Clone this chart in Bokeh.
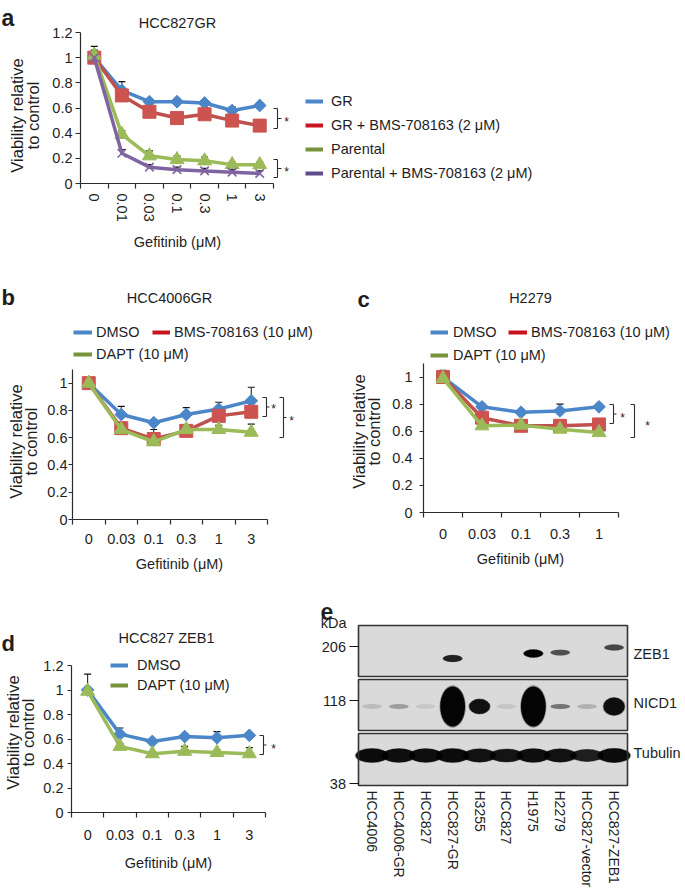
import numpy as np
from bokeh.plotting import figure
from bokeh.layouts import column, row
from bokeh.models import (Range1d, FixedTicker, NumeralTickFormatter, Label,
                          Legend, LegendItem, Arrow)
from bokeh.embed import file_html
from bokeh.resources import INLINE

# ------------------------------------------------------------------ data
x_title = "Gefitinib (μM)"
y_title = ["Viability relative", "to control"]

# panel a : HCC827GR
doses_a = ["0", "0.01", "0.03", "0.1", "0.3", "1", "3"]
names_a = ["GR", "GR + BMS-708163 (2 μM)", "Parental", "Parental + BMS-708163 (2 μM)"]
a_gr = [1.00, 0.74, 0.65, 0.65, 0.64, 0.58, 0.62]
a_gr_err = [0.09, 0.07, 0.02, 0.02, 0.02, 0.03, 0.02]
a_gr_bms = [1.00, 0.70, 0.57, 0.52, 0.55, 0.50, 0.46]
a_gr_bms_err = [0.05, 0.03, 0.02, 0.02, 0.05, 0.02, 0.02]
a_par = [1.02, 0.39, 0.22, 0.19, 0.18, 0.15, 0.15]
a_par_err = [0.04, 0.03, 0.04, 0.03, 0.03, 0.02, 0.02]
a_par_bms = [1.00, 0.24, 0.13, 0.11, 0.10, 0.09, 0.08]
a_par_bms_err = [0.02, 0.03, 0.02, 0.02, 0.02, 0.02, 0.02]
yticks_a = [0, 0.2, 0.4, 0.6, 0.8, 1.0, 1.2]

# panel b : HCC4006GR
doses_b = ["0", "0.03", "0.1", "0.3", "1", "3"]
names_b = ["DMSO", "BMS-708163 (10 μM)", "DAPT (10 μM)"]
b_dmso = [1.00, 0.77, 0.71, 0.77, 0.81, 0.87]
b_dmso_err = [0.04, 0.06, 0.02, 0.05, 0.05, 0.10]
b_bms = [1.00, 0.67, 0.59, 0.65, 0.76, 0.79]
b_bms_err = [0.02, 0.02, 0.07, 0.02, 0.06, 0.02]
b_dapt = [1.00, 0.66, 0.57, 0.66, 0.66, 0.64]
b_dapt_err = [0.02, 0.02, 0.02, 0.02, 0.03, 0.06]
yticks_b = [0, 0.2, 0.4, 0.6, 0.8, 1.0]

# panel c : H2279
doses_c = ["0", "0.03", "0.1", "0.3", "1"]
names_c = ["DMSO", "BMS-708163 (10 μM)", "DAPT (10 μM)"]
c_dmso = [1.00, 0.78, 0.74, 0.75, 0.78]
c_dmso_err = [0.05, 0.02, 0.02, 0.05, 0.02]
c_bms = [1.00, 0.70, 0.64, 0.64, 0.65]
c_bms_err = [0.02, 0.02, 0.02, 0.02, 0.02]
c_dapt = [0.99, 0.64, 0.645, 0.615, 0.59]
c_dapt_err = [0.02, 0.02, 0.02, 0.02, 0.02]
yticks_c = [0, 0.2, 0.4, 0.6, 0.8, 1.0]

# panel d : HCC827 ZEB1
doses_d = ["0", "0.03", "0.1", "0.3", "1", "3"]
names_d = ["DMSO", "DAPT (10 μM)"]
d_dmso = [1.00, 0.64, 0.58, 0.62, 0.61, 0.63]
d_dmso_err = [0.13, 0.05, 0.02, 0.02, 0.05, 0.02]
d_dapt = [0.99, 0.54, 0.48, 0.50, 0.49, 0.48]
d_dapt_err = [0.02, 0.02, 0.02, 0.04, 0.02, 0.05]
yticks_d = [0, 0.2, 0.4, 0.6, 0.8, 1.0, 1.2]

# panel e : western blot
lanes = ["HCC4006", "HCC4006-GR", "HCC827", "HCC827-GR", "H3255", "HCC827",
         "H1975", "H2279", "HCC827-vector", "HCC827-ZEB1"]
proteins = ["ZEB1", "NICD1", "Tubulin"]
kda_markers = ["206", "118", "38"]
zeb1 = [0.0, 0.0, 0.0, 0.8, 0.0, 0.0, 1.0, 0.55, 0.0, 0.6]
nicd1 = [0.10, 0.22, 0.06, 1.0, 0.9, 0.07, 1.0, 0.38, 0.14, 0.92]
tubulin = [0.95, 0.92, 0.92, 0.95, 0.9, 0.88, 0.92, 0.9, 0.82, 0.95]

# ------------------------------------------------------------------ style
FONT = "Liberation Sans"
FS = "14.5px"
TXT = "#1e1e1e"
AXC = "#2c2c2c"
BLUE, RED, GREEN, PURPLE = "#4a86c8", "#c0504d", "#9bbb59", "#8064a2"
STY = {
    "blue": dict(line=BLUE, marker="square", angle=np.pi / 4, size=9, fill=BLUE, leg="#4a86c8"),
    "red": dict(line=RED, marker="square", angle=0.0, size=13, fill="#cd5350", leg="#c8141e"),
    "green": dict(line=GREEN, marker="triangle", angle=0.0, size=14, fill=GREEN, leg="#77933c"),
    "purple": dict(line=PURPLE, marker="x", angle=0.0, size=12, fill=PURPLE, leg="#604a87"),
}


class Panel:
    """A figure whose frame fills the whole canvas; 'area' is the box (page px)
    that the data ranges xr / yr occupy, axes sit at its left / bottom edges."""

    def __init__(self, origin, size, area, xr, yr):
        self.ox, self.oy = origin
        self.W, self.H = size
        self.fl, self.ft, self.fw, self.fh = area
        self.xa0, self.xa1 = xr
        self.ya0, self.ya1 = yr
        self.sx = self.fw / (self.xa1 - self.xa0)
        self.sy = self.fh / (self.ya1 - self.ya0)
        xs = self.X(self.ox)
        xe = self.X(self.ox + self.W)
        ys = self.Y(self.oy + self.H)
        ye = self.Y(self.oy)
        self.p = figure(width=self.W, height=self.H, output_backend="svg",
                        toolbar_location=None, x_range=Range1d(xs, xe),
                        y_range=Range1d(ys, ye), min_border=0,
                        outline_line_color=None, background_fill_color="white",
                        border_fill_color="white")
        self.p.grid.visible = False

    def X(self, px):
        return self.xa0 + (px - self.fl) / self.sx

    def Y(self, py):
        return self.ya0 + (self.ft + self.fh - py) / self.sy

    def text(self, px, py, s, size=FS, align="center", bold=False, angle=0.0,
             baseline="middle"):
        self.p.add_layout(Label(x=self.X(px), y=self.Y(py), text=s, text_font=FONT,
                                text_font_size=size, text_align=align,
                                text_baseline=baseline, text_color=TXT, angle=angle,
                                text_font_style="bold" if bold else "normal"))

    def letter(self, px, py, s, size="22px"):
        self.text(px, py, s, size=size, align="left", bold=True, baseline="alphabetic")

    def seg(self, ax, ay, bx, by):
        self.p.add_layout(Arrow(x_start=self.X(ax), y_start=self.Y(ay),
                                x_end=self.X(bx), y_end=self.Y(by), end=None,
                                line_color=AXC, line_width=1.1))

    def bracket(self, xl, xv, top, bot, mid_len, sx, sy):
        self.seg(xl, top, xv, top)
        self.seg(xv, top, xv, bot)
        self.seg(xl, bot, xv, bot)
        if mid_len:
            m = (top + bot) / 2
            self.seg(xv, m, xv + mid_len, m)
        self.text(sx, sy + 3, "*", size="12px")

    def legend(self, label, color, gx, gy, gw, standoff):
        nan2 = np.array([np.nan, np.nan])
        r = self.p.line(nan2, nan2, line_color=color, line_width=4)
        self.p.add_layout(Legend(items=[LegendItem(label=label, renderers=[r])],
                                 location=(gx - self.ox, self.oy + self.H - gy - 10),
                                 padding=0, margin=0, spacing=0, glyph_width=gw,
                                 glyph_height=20, label_height=20, label_standoff=standoff,
                                 border_line_color=None, background_fill_alpha=0,
                                 label_text_font=FONT, label_text_font_size=FS,
                                 label_text_color=TXT))

    def axes(self, cats, yticks, rotate, xstd, ytick_out, ystd):
        p = self.p
        n = len(cats)
        xa = p.xaxis[0]
        xa.fixed_location = self.ya0
        xa.bounds = (self.xa0, self.xa1)
        xa.ticker = FixedTicker(ticks=list(range(n)),
                                minor_ticks=[i - 0.5 for i in range(n + 1)])
        xa.major_label_overrides = {i: c for i, c in enumerate(cats)}
        xa.major_tick_out = 0
        xa.major_tick_in = 0
        xa.minor_tick_out = 5
        xa.minor_tick_in = 0
        xa.minor_tick_line_color = AXC
        xa.minor_tick_line_width = 1.2
        xa.axis_line_color = AXC
        xa.axis_line_width = 1.2
        xa.major_label_standoff = xstd
        if rotate:
            xa.major_label_orientation = "vertical"
        ya = p.yaxis[0]
        ya.fixed_location = self.xa0
        ya.bounds = (self.ya0, self.ya1)
        ya.ticker = FixedTicker(ticks=yticks)
        ya.formatter = NumeralTickFormatter(format="0.[0]")
        ya.major_tick_out = ytick_out
        ya.major_tick_in = 0
        ya.major_tick_line_color = AXC
        ya.major_tick_line_width = 1.2
        ya.axis_line_color = AXC
        ya.axis_line_width = 1.2
        ya.major_label_standoff = ystd
        for ax in (xa, ya):
            ax.major_label_text_font = FONT
            ax.major_label_text_font_size = FS
            ax.major_label_text_color = TXT

    def titles(self, xt, yt1, yt2, ymid):
        self.text(xt[0], xt[1], x_title)
        self.text(yt1, ymid, y_title[0], size="16.5px", angle=np.pi / 2)
        self.text(yt2, ymid, y_title[1], size="16.5px", angle=np.pi / 2)

    def draw(self, series):
        p = self.p
        for ys, errs, key in series:
            x = np.arange(len(ys))
            y = np.array(ys)
            top = y + np.array(errs)
            p.segment(x, y, x, top, line_color="#111111", line_width=1)
            p.scatter(x, top, marker="dash", size=7, line_color="#111111", line_width=1.2)
        for ys, errs, key in series:
            s = STY[key]
            x = np.arange(len(ys))
            p.line(x, ys, line_color=s["line"], line_width=3.5)
            if s["marker"] == "x":
                p.scatter(x, ys, marker="x", size=s["size"], line_color=s["line"], line_width=1.6)
            else:
                p.scatter(x, ys, marker=s["marker"], size=s["size"], angle=s["angle"],
                          fill_color=s["fill"], line_color=s["fill"])


# ------------------------------------------------------------------ panel a
A = Panel((0, 0), (685, 280), (80, 32, 193, 151), (-0.5, len(doses_a) - 0.5), (0, 1.2))
A.axes(doses_a, yticks_a, True, 5, 5, 3)
A.draw([(a_gr, a_gr_err, "blue"), (a_gr_bms, a_gr_bms_err, "red"),
        (a_par, a_par_err, "green"), (a_par_bms, a_par_bms_err, "purple")])
A.letter(1, 17, "a", "23px")
A.text(177, 22, "HCC827GR")
A.titles((177, 241), 16, 32, 115)
A.bracket(273, 277, 108, 128, 4, 286, 118)
A.bracket(273, 277, 159, 177, 4, 286, 168)
for nm, key, gy in zip(names_a, ["blue", "red", "green", "purple"], [101, 125, 149, 173]):
    A.legend(nm, STY[key]["leg"], 305, gy, 18, 8)

# ------------------------------------------------------------------ panel b
B = Panel((0, 280), (346, 314), (72, 369, 195, 150), (-0.5, len(doses_b) - 0.5), (0, 1.1))
B.axes(doses_b, yticks_b, False, 9, 4, 1)
B.draw([(b_dmso, b_dmso_err, "blue"), (b_bms, b_bms_err, "red"), (b_dapt, b_dapt_err, "green")])
B.letter(1, 297, "b")
B.text(169, 297, "HCC4006GR")
B.titles((179, 563), 15.5, 30, 441)
B.legend(names_b[0], STY["blue"]["leg"], 73, 332, 19, 4)
B.legend(names_b[1], STY["red"]["leg"], 152, 332, 18, 4)
B.legend(names_b[2], STY["green"]["leg"], 73, 354, 19, 4)
B.bracket(262, 266, 397, 416, 3, 273, 405)
B.bracket(279, 283, 397, 437, 3, 291, 417)

# ------------------------------------------------------------------ panel c
C = Panel((346, 280), (339, 314), (423, 363, 195, 149), (-0.5, len(doses_c) - 0.5), (0, 1.1))
C.axes(doses_c, yticks_c, False, 11, 4, 7)
C.draw([(c_dmso, c_dmso_err, "blue"), (c_bms, c_bms_err, "red"), (c_dapt, c_dapt_err, "green")])
C.letter(357, 299, "c")
C.text(530, 297, "H2279")
C.titles((520, 558), 358.5, 373, 431)
C.legend(names_c[0], STY["blue"]["leg"], 430, 332, 18, 5)
C.legend(names_c[1], STY["red"]["leg"], 508, 332, 19, 4)
C.legend(names_c[2], STY["green"]["leg"], 430, 355, 18, 5)
C.bracket(609, 613, 404, 423, 3, 622, 414)
C.bracket(630, 634, 404, 437, 0, 647, 422)

# ------------------------------------------------------------------ panel d
D = Panel((0, 594), (314, 300), (71, 665, 194, 147), (-0.5, len(doses_d) - 0.5), (0, 1.2))
D.axes(doses_d, yticks_d, False, 12, 4, 4)
D.draw([(d_dmso, d_dmso_err, "blue"), (d_dapt, d_dapt_err, "green")])
D.letter(1, 643, "d")
D.text(166, 637, "HCC827 ZEB1")
D.titles((168, 862), 12, 27, 732)
D.legend(names_d[0], STY["blue"]["leg"], 110, 665, 18, 9)
D.legend(names_d[1], STY["green"]["leg"], 110, 685, 18, 9)
D.bracket(259, 263, 735, 754, 3, 273, 745)

# ------------------------------------------------------------------ panel e
E = Panel((314, 594), (371, 300), (358, 625, 269, 160), (-0.5, len(lanes) - 0.5), (0, 160))
pe = E.p
boxes = [(625, 676), (679, 730), (733, 785)]
for t, b in boxes:
    pe.rect(x=(len(lanes) - 1) / 2, y=(E.Y(t) + E.Y(b)) / 2, width=len(lanes),
            height=E.Y(t) - E.Y(b), fill_color="#dadada", line_color=None)

lx = np.arange(len(lanes))
zeb_shift = [0, 0, 0, 5, 0, 0, 0, -1, 0, -6]
layers = [(1.06, 1.06, 0.4), (1.0, 1.0, 0.97)]
for wf, hf, af in layers:
    zi = np.array(zeb1)
    pe.ellipse(lx, [E.Y(653 + s) for s in zeb_shift], width=0.72 * wf,
               height=(3 + 5 * zi) * hf, fill_color="black",
               fill_alpha=np.clip(af * zi, 0, 1), line_color=None)
    ni = np.array(nicd1)
    pe.ellipse(lx, E.Y(706), width=(0.72 + 0.2 * ni ** 12) * wf,
               height=(5 + 35 * ni ** 12) * hf, fill_color="black",
               fill_alpha=np.clip(af * ni, 0, 1), line_color=None)
    ti = np.array(tubulin)
    pe.ellipse(lx, E.Y(755), width=1.2 * wf, height=15 * ti * hf, fill_color="black",
               fill_alpha=np.clip(af * ti, 0, 1), line_color=None)
for t, b in boxes:
    pe.rect(x=(len(lanes) - 1) / 2, y=(E.Y(t) + E.Y(b)) / 2, width=len(lanes),
            height=E.Y(t) - E.Y(b), fill_color=None, line_color="#333333", line_width=1.6)

xa = pe.xaxis[0]
xa.fixed_location = E.Y(785)
xa.ticker = FixedTicker(ticks=list(range(len(lanes))))
xa.major_label_overrides = {i: c for i, c in enumerate(lanes)}
xa.major_label_orientation = "vertical"
xa.major_tick_out = 0
xa.major_tick_in = 0
xa.axis_line_color = None
xa.major_label_standoff = 5
xa.major_label_text_font = FONT
xa.major_label_text_font_size = "14px"
xa.major_label_text_color = TXT

ya = pe.yaxis[0]
ya.fixed_location = E.X(357.5)
kda_pos = [E.Y(646), E.Y(700), E.Y(783)]
ya.ticker = FixedTicker(ticks=kda_pos)
ya.major_label_overrides = {v: k for v, k in zip(kda_pos, kda_markers)}
ya.major_tick_out = 9
ya.major_tick_in = 0
ya.major_tick_line_color = "#111111"
ya.major_tick_line_width = 1.2
ya.axis_line_color = None
ya.major_label_standoff = 3
ya.major_label_text_font = FONT
ya.major_label_text_font_size = FS
ya.major_label_text_color = TXT

E.text(346, 622, "kDa", align="right")
E.letter(320, 611, "e", "23px")
for name, py in zip(proteins, [653, 702, 752]):
    E.text(633, py, name, align="left")

layout = column(A.p, row(B.p, C.p), row(D.p, E.p))
open("out.html", "w").write(file_html(layout, INLINE))
